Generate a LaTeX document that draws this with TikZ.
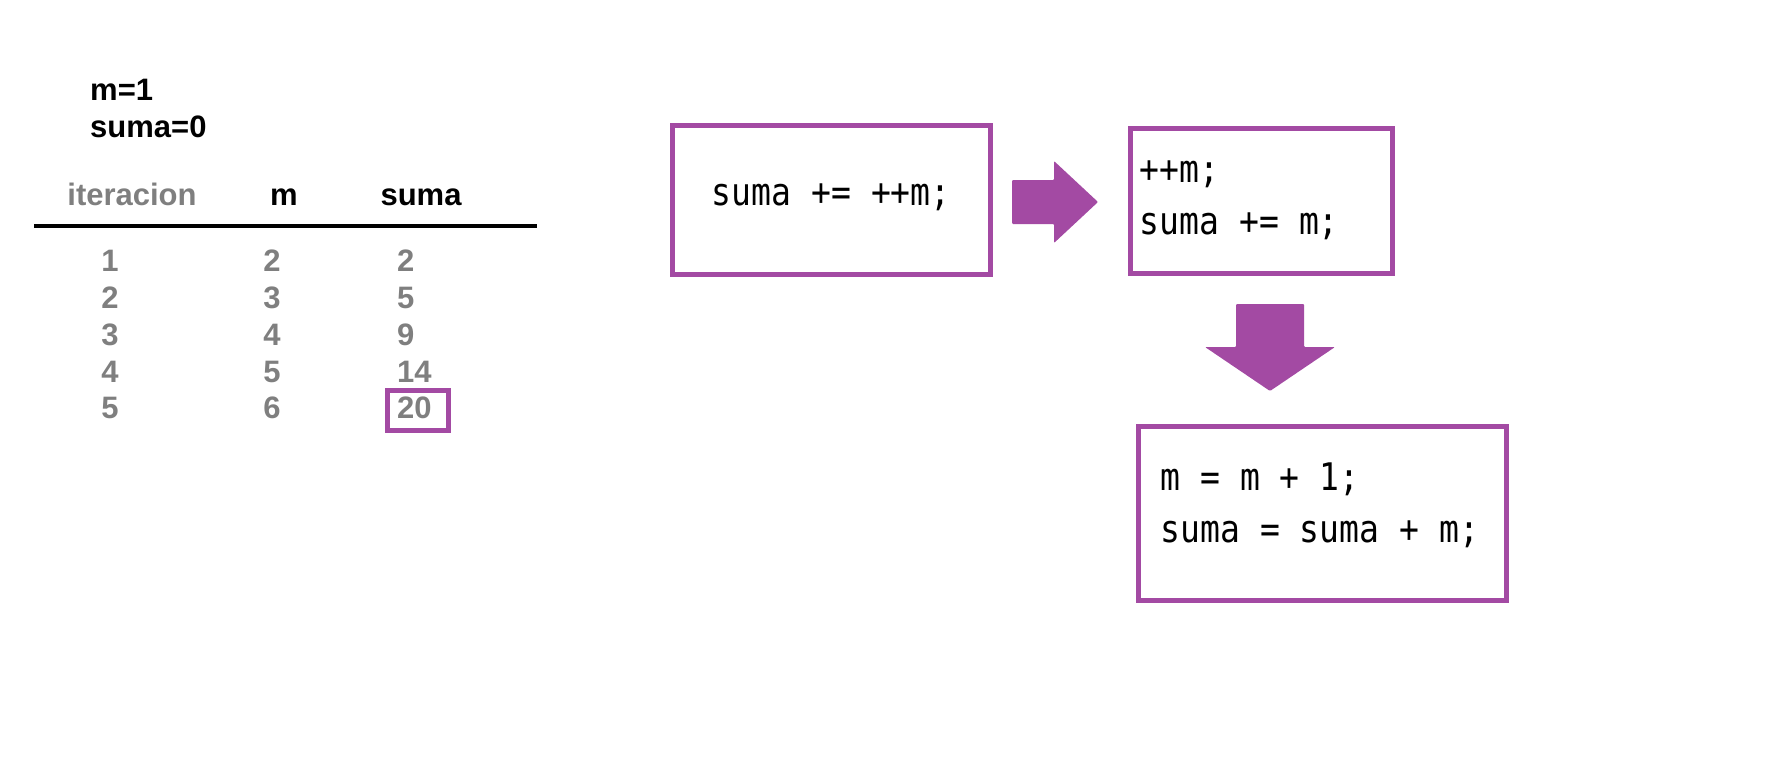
\documentclass[tikz,border=0pt]{standalone}
\usepackage{fontspec}
\setmainfont{Liberation Sans}
\newfontfamily\codefont[FakeStretch=0.87]{DejaVu Sans Mono}
\newcommand\espacio{\spaceskip=\fontcharwd\font`\m\relax
  \xspaceskip=\spaceskip}
\usepackage{tikz}
\usetikzlibrary{positioning}
\definecolor{violeta}{RGB}{163,74,163}
\definecolor{gristxt}{RGB}{127,127,127}
\tikzstyle{tab}=[%
      inner sep=0pt, font=\fontsize{31}{37}\selectfont\bfseries
]
\tikzstyle{num}=[tab, text=gristxt]
\tikzstyle{codebox}=[%
      rectangle, draw=violeta, line width=5pt, fill=none,
      font=\codefont\fontsize{38}{52}\selectfont, align=left,
      execute at begin node=\espacio,
      inner ysep=0pt, text height=26pt
]

\begin{document}
\begin{tikzpicture}[x=1pt, y=1pt]
    \useasboundingbox (0,0) rectangle (1782,-782);

    % valores iniciales
    \node[tab, anchor=base west] (ini1) at (90,-100.7) {m=1};
    \node[tab, anchor=base west] (ini2) at (90,-137.3) {suma=0};

    % tabla
    \node[num, anchor=base] (hIter) at (132,-205) {iteracion};
    \node[tab, anchor=base] (hM)    at (284,-205) {m};
    \node[tab, anchor=base] (hSuma) at (421,-205) {suma};
    \draw[line width=4.3pt] (34,-226) -- (537,-226);

    \foreach \k/\vm/\vs [count=\r] in {1/2/2, 2/3/5, 3/4/9, 4/5/14, 5/6/20}{
        \node[num, anchor=base] (it\r) at (110,{-271.7-36.8*(\r-1)}) {\k};
        \node[num, anchor=base] (m\r)  at (272,{-271.7-36.8*(\r-1)}) {\vm};
        \node[num, anchor=base west] (s\r) at (397,{-271.7-36.8*(\r-1)}) {\vs};
    }
    \node[draw=violeta, line width=4.7pt, inner sep=0pt,
          minimum width=61pt, minimum height=39.6pt] (marca) at (417.8,-410.5) {};

    % codigo
    \node[codebox, minimum width=317.5pt, minimum height=149pt, inner xsep=0pt,
          text depth=15pt]
        (caja1) at (831.25,-199.5) {suma += ++m;};
    \node[codebox, minimum width=261.7pt, minimum height=145pt,
          inner xsep=9pt, text width=243.7pt, text depth=62.6pt]
        (caja2) at (1261.7,-201) {++m;\\suma += m;};
    \node[codebox, minimum width=368pt, minimum height=173.5pt,
          inner xsep=22pt, text width=324pt, text depth=72.5pt]
        (caja3) at (1322.5,-513.25) {m = m + 1;\\suma = suma + m;};

    % flechas
    \fill[violeta, rounded corners=1pt] (1012,-180) -- (1054,-180) -- (1054,-161)
        -- (1098,-202) -- (1054,-243) -- (1054,-224) -- (1012,-224) -- cycle;
    \fill[violeta, rounded corners=1pt] (1236,-304) -- (1304,-304) -- (1304,-347)
        -- (1335,-347) -- (1270,-391) -- (1205,-347) -- (1236,-347) -- cycle;
\end{tikzpicture}
\end{document}
